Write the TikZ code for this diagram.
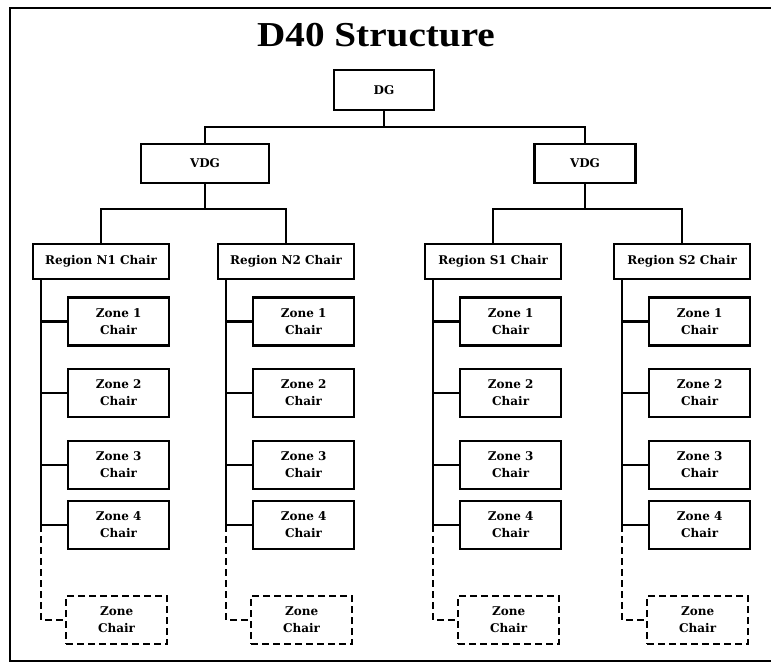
\documentclass[tikz,border=0pt]{standalone}
\usepackage{fontspec}
\setmainfont{DejaVu Serif}
\newfontfamily\headfont{Liberation Serif}
\begin{document}
\begin{tikzpicture}[x=1pt, y=-1pt,
        box/.style={draw, line width=2.2pt, inner sep=0pt, font=\bfseries\fontsize{12}{14}\selectfont},
        zonebox/.style={box, minimum width=101pt, minimum height=48pt, align=center, font=\bfseries\fontsize{12}{17}\selectfont},
        link/.style={line width=2.2pt}]
        \useasboundingbox (0,0) rectangle (771,665);
        \draw[line width=2.6pt] (10,8) rectangle (773,661);
        \node[font=\headfont\bfseries\fontsize{35}{40}\selectfont] (title) at (376,35) {\scalebox{1.12}[1]{D40 Structure}};
        % top levels
        \node[box, minimum width=100pt, minimum height=40pt] (dg) at (384,90) {DG};
        \node[box, minimum width=128pt, minimum height=39pt] (vdgL) at (205,163.5) {VDG};
        \node[box, minimum width=101pt, minimum height=39pt] (vdgR) at (585,163.5) {VDG};
        \draw[link] (dg.south) -- ++(0,16) coordinate (dgbar) -| (vdgL.north);
        \draw[link] (dgbar) -| (vdgR.north);
        % regions and zones
        \foreach \r/\x in {N1/32, N2/217, S1/424, S2/613} {
          \node[box, minimum width=136pt, minimum height=35pt, anchor=north west] (r\r) at (\x,243) {Region \r{} Chair};
          \coordinate (t\r) at ([xshift=9pt]r\r.south west);
          \foreach \i/\y in {1/321.5, 2/393, 3/465, 4/525}
            \node[zonebox, anchor=west] (z\r\i) at (\x+35,\y) {Zone \i\\Chair};
          \node[zonebox, dash pattern=on 7pt off 4pt, anchor=west] (z\r5) at (\x+33,620) {Zone\\Chair};
          \draw[link] (t\r) |- (z\r4.west);
          \foreach \i in {1,2,3}
            \draw[link] (t\r |- z\r\i.west) -- (z\r\i.west);
          \draw[link, dash pattern=on 7pt off 4pt] (t\r |- z\r4.west) |- (z\r5.west);
        }
        \draw[link] (vdgL.south) -- ++(0,25) coordinate (nbar) -| (rN1.north);
        \draw[link] (nbar) -| (rN2.north);
        \draw[link] (vdgR.south) -- ++(0,25) coordinate (sbar) -| (rS1.north);
        \draw[link] (sbar) -| (rS2.north);
\end{tikzpicture}
\end{document}
